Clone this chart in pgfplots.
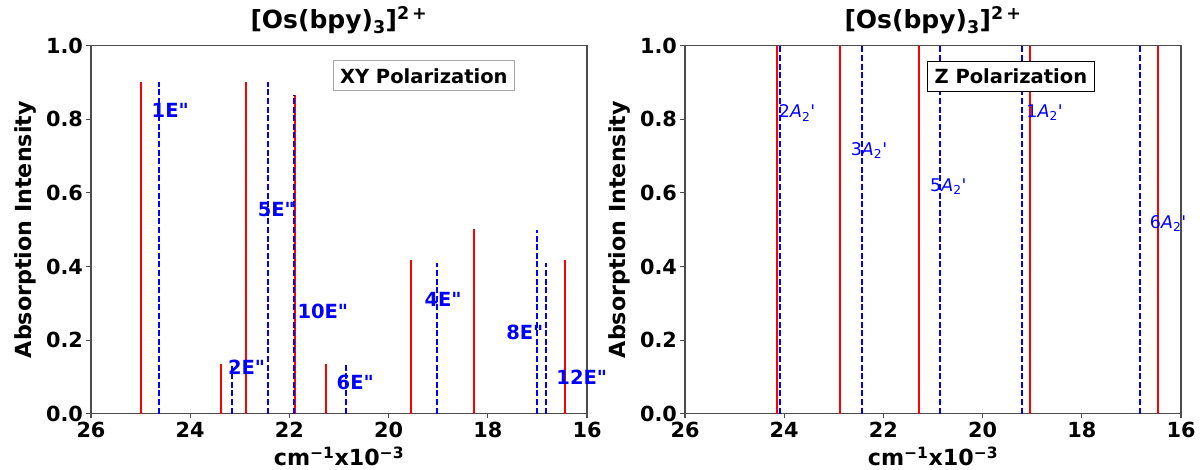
\documentclass[border=0pt]{standalone}
\usepackage{fontspec}
\setmainfont{DejaVu Sans}[Ligatures=TeXOff,ItalicFont={DejaVu Sans Oblique},BoldItalicFont={DejaVu Sans Bold Oblique}]
\usepackage{pgfplots}
\pgfplotsset{compat=1.18}
\definecolor{mplred}{rgb}{1,0,0}
\definecolor{mplblue}{rgb}{0,0,1}
\definecolor{spine}{gray}{0.3}
\tikzset{
 lbl/.style={mplblue, anchor=west, inner sep=0pt, font=\fontsize{19.5}{23}\selectfont\bfseries},
 rlbl/.style={mplblue, anchor=west, inner sep=0pt, font=\fontsize{17.5}{21}\selectfont},
 polbox/.style={fill=white, line width=1pt, inner xsep=7pt, minimum height=30pt, font=\fontsize{19.5}{23}\selectfont\bfseries},
}
\pgfplotsset{
 myax/.style={
  scale only axis, width=496pt, height=368pt,
  xmin=16, xmax=26, ymin=0, ymax=1, x dir=reverse,
  xtick={16,18,...,26}, ytick={0,0.2,0.4,0.6,0.8,1.0},
  xtick pos=bottom, ytick pos=left, tick align=outside,
  major tick length=4.5pt,
  axis line style={spine, line width=1.1pt},
  every tick/.style={spine, line width=1.1pt},
  /pgf/number format/assume math mode=true,
  yticklabel style={/pgf/number format/.cd, fixed, fixed zerofill, precision=1},
  ticklabel style={font=\fontsize{20.8}{24}\selectfont\bfseries},
  xlabel={\bfseries cm\textsuperscript{−1}x10\textsuperscript{−3}},
  ylabel={\bfseries Absorption Intensity},
  label style={font=\fontsize{22.2}{26}\selectfont},
  xlabel style={at={(axis description cs:0.5,0)}, anchor=north, inner sep=0pt, yshift=-33pt},
  ylabel style={at={(axis description cs:-0.133,0.5)}, anchor=center, inner sep=0pt},
  title={\bfseries [Os(bpy)\textsubscript{3}]\textsuperscript{2\,+}},
  title style={font=\fontsize{25}{30}\selectfont, at={(axis description cs:0.5,1)}, anchor=base, inner sep=0pt, yshift=10.7pt},
  unbounded coords=jump,
  clip=false,
 },
 redl/.style={draw=mplred, line width=2pt, mark=none, solid},
 bluel/.style={draw=mplblue, line width=2pt, mark=none, dash pattern=on 6pt off 2.6pt},
}
\begin{document}
\begin{tikzpicture}
\begin{axis}[myax, name=left, at={(0pt,0pt)}, anchor=south west]
\addplot[redl] coordinates {(25.0,0) (25.0,0.90) (25.0,nan)
 (23.38,0) (23.38,0.135) (23.38,nan)
 (22.88,0) (22.88,0.90) (22.88,nan)
 (21.88,0) (21.88,0.865) (21.88,nan)
 (21.27,0) (21.27,0.135) (21.27,nan)
 (19.55,0) (19.55,0.418) (19.55,nan)
 (18.27,0) (18.27,0.503) (18.27,nan)
 (16.45,0) (16.45,0.418)};
\addplot[bluel] coordinates {(24.63,0) (24.63,0.90) (24.63,nan)
 (23.15,0) (23.15,0.13) (23.15,nan)
 (22.44,0) (22.44,0.90) (22.44,nan)
 (21.90,0) (21.90,0.865) (21.90,nan)
 (20.86,0) (20.86,0.135) (20.86,nan)
 (19.03,0) (19.03,0.41) (19.03,nan)
 (17.01,0) (17.01,0.50) (17.01,nan)
 (16.83,0) (16.83,0.41)};
\node[lbl] at (axis cs:24.78,0.825) {1E"};
\node[lbl] at (axis cs:22.64,0.554) {5E"};
\node[lbl] at (axis cs:21.84,0.277) {10E"};
\node[lbl] at (axis cs:23.24,0.125) {2E"};
\node[lbl] at (axis cs:21.05,0.084) {6E"};
\node[lbl] at (axis cs:19.28,0.311) {4E"};
\node[lbl] at (axis cs:17.63,0.22) {8E"};
\node[lbl] at (axis cs:16.62,0.10) {12E"};
\node[polbox, draw=gray!70] at (axis cs:19.29,0.918) {XY Polarization};
\end{axis}
\begin{axis}[myax, name=right, at={(594pt,0pt)}, anchor=south west]
\addplot[redl] coordinates {(24.155,0) (24.155,1) (24.155,nan)
 (22.88,0) (22.88,1) (22.88,nan)
 (21.28,0) (21.28,1) (21.28,nan)
 (19.04,0) (19.04,1) (19.04,nan)
 (16.455,0) (16.455,1)};
\addplot[bluel] coordinates {(24.08,0) (24.08,1) (24.08,nan)
 (22.44,0) (22.44,1) (22.44,nan)
 (20.865,0) (20.865,1) (20.865,nan)
 (19.21,0) (19.21,1) (19.21,nan)
 (16.83,0) (16.83,1)};
\node[rlbl] at (axis cs:24.11,0.817) {2\textit{A}\textsubscript{2}'};
\node[rlbl] at (axis cs:22.66,0.716) {3\textit{A}\textsubscript{2}'};
\node[rlbl] at (axis cs:21.06,0.616) {5\textit{A}\textsubscript{2}'};
\node[rlbl] at (axis cs:19.12,0.817) {1\textit{A}\textsubscript{2}'};
\node[rlbl] at (axis cs:16.63,0.517) {6\textit{A}\textsubscript{2}'};
\node[polbox, draw=black] at (axis cs:19.43,0.916) {Z Polarization};
\end{axis}
\path[use as bounding box] (-91pt,-56.3pt) rectangle (1109pt,413.7pt);
\end{tikzpicture}
\end{document}
